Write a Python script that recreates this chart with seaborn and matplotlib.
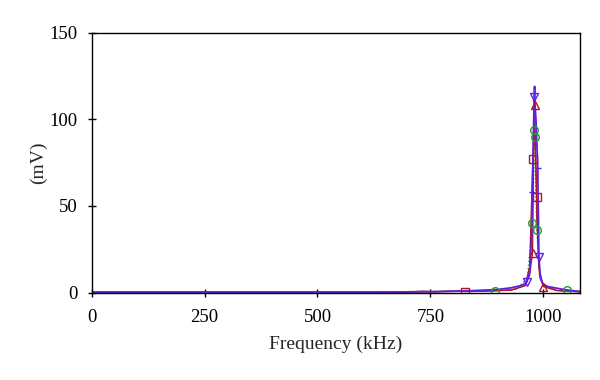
"""Resonance spectrum near 980 kHz, four measured traces."""

import matplotlib
matplotlib.use("Agg")
import matplotlib.pyplot as plt
import seaborn as sns

sns.set_theme(style="ticks")
plt.rcParams["font.family"] = ["Liberation Serif", "DejaVu Serif"]

# green circles trace
green_f = [0, 600, 650, 700, 750, 800, 893, 940, 965, 976, 978.6, 980, 980.8, 983, 986, 992, 1000, 1052, 1085]
green_v = [0.2, 0.2, 0.4, 0.6, 0.8, 0.8, 1.0, 2.0, 8, 40, 94, 97, 90, 65, 36, 10, 4, 1.5, 0.6]
green_mf = [893, 976, 978.6, 980.8, 986, 1052]
green_mv = [1.0, 40, 94, 90, 36, 1.5]

# red squares trace
sq_f = [0, 600, 700, 730, 760, 790, 827, 880, 930, 960, 970, 977, 980, 983, 986, 990, 1000, 1030, 1085]
sq_v = [0.2, 0.2, 0.3, 0.8, 0.4, 0.9, 0.6, 0.8, 1.5, 4, 15, 77, 95, 80, 55, 15, 4, 1.2, 0.4]
sq_mf = [827, 977, 986]
sq_mv = [0.6, 77, 55]

# red triangles trace
tri_f = [0, 600, 700, 760, 850, 930, 960, 970, 976.5, 979, 981, 983, 986, 992, 1000, 1030, 1085]
tri_v = [0.2, 0.2, 0.3, 0.5, 0.8, 1.5, 4, 10, 23, 80, 108, 85, 40, 10, 3.5, 1.2, 0.4]
tri_mf = [976.5, 981, 1000]
tri_mv = [23, 108, 3.5]

# purple down-triangles trace
pur_f = [0, 100, 200, 300, 400, 500, 600, 700, 760, 800, 850, 900, 930, 950, 960, 964, 970, 974,
         976, 978, 980, 981, 982, 984, 988, 990.5, 994, 1000, 1010, 1030, 1052, 1070, 1085]
pur_v = [0.3, 0.3, 0.3, 0.3, 0.3, 0.3, 0.3, 0.4, 0.6, 0.8, 1.2, 1.8, 2.8, 4.0, 5.2, 6.3, 12, 30,
         58, 85, 113, 119, 108, 100, 72, 20.5, 8, 5, 3.5, 2.5, 1.5, 1.0, 0.6]
pur_mf = [964, 980, 990.5]
pur_mv = [6.3, 113, 20.5]
pur_pf = [976, 988]
pur_pv = [58, 72]

GREEN = "#1f9e2a"
RED = "#b3141e"
PURPLE = "#5a22e6"

fig, ax = plt.subplots(figsize=(6, 3.8), dpi=100)
fig.subplots_adjust(left=0.153, right=0.967, top=0.914, bottom=0.230)

sns.lineplot(x=green_f, y=green_v, color=GREEN, lw=1.0, ls=":", ax=ax)
sns.lineplot(x=sq_f, y=sq_v, color=RED, lw=0.9, ax=ax)
sns.lineplot(x=tri_f, y=tri_v, color=RED, lw=0.9, ax=ax)
sns.lineplot(x=pur_f, y=pur_v, color=PURPLE, lw=1.3, ax=ax)

ms = 5.5
ax.plot(green_mf, green_mv, ls="none", marker="o", ms=ms, mfc="none", mec=GREEN, mew=1.0)
ax.plot(sq_mf, sq_mv, ls="none", marker="s", ms=ms, mfc="none", mec=RED, mew=1.0)
ax.plot(tri_mf, tri_mv, ls="none", marker="^", ms=ms, mfc="none", mec=RED, mew=1.0)
ax.plot(pur_mf, pur_mv, ls="none", marker="v", ms=ms, mfc="none", mec=PURPLE, mew=1.0)
ax.plot(pur_pf, pur_pv, ls="none", marker="_", ms=5, mec=PURPLE, mew=1.0)

ax.set_xlim(0, 1082)
ax.set_ylim(0, 150)
ax.set_xticks([0, 250, 500, 750, 1000])
ax.set_yticks([0, 50, 100, 150])
ax.tick_params(direction="inout", length=6, width=1, labelsize=13.5, colors="black")
ax.tick_params(axis="x", pad=9)
ax.tick_params(axis="y", pad=7)
ax.set_xlabel("Frequency (kHz)", fontsize=14, labelpad=7)
ax.set_ylabel("(mV)", fontsize=14, labelpad=2)
for s in ax.spines.values():
    s.set_visible(True)
    s.set_color("black")
    s.set_linewidth(1.0)

fig.savefig("out.png", dpi=100)
